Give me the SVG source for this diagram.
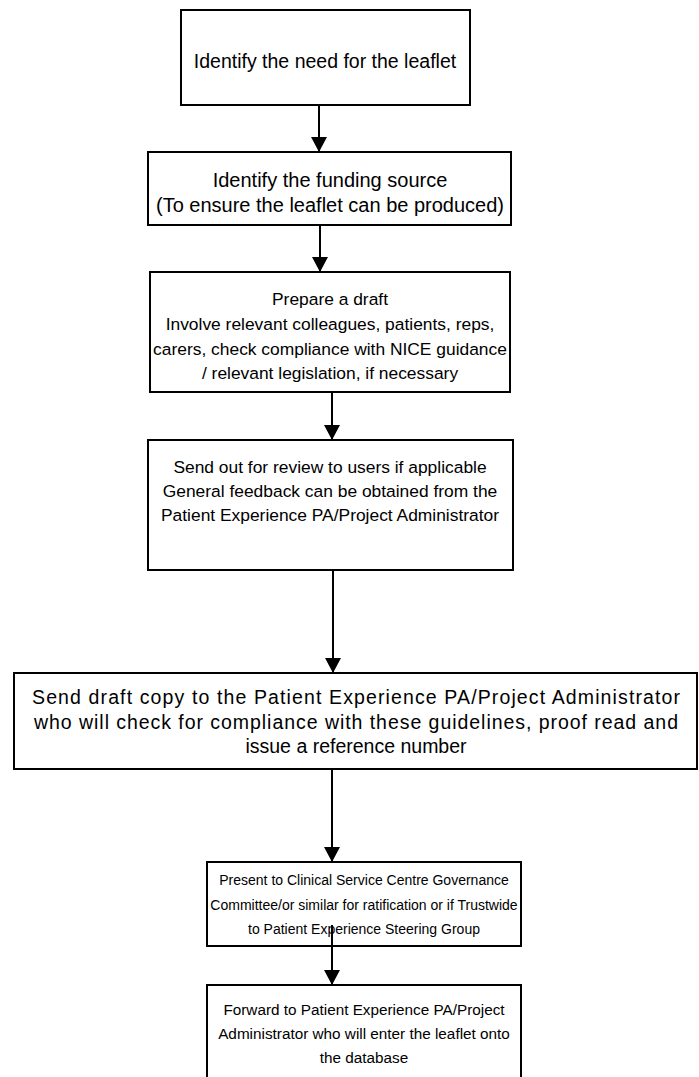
<svg xmlns="http://www.w3.org/2000/svg" width="699" height="1077" viewBox="0 0 699 1077">
<defs>
<style>
.box{fill:#fff;stroke:#000;stroke-width:2}
.t{font-family:"Liberation Sans",Arial,sans-serif;font-size:20px;fill:#000;text-anchor:middle}
.s17{font-size:17.4px}
.s20{font-size:19.5px}
.s14{font-size:14px}
.s15{font-size:15.3px}
.c{stroke:#000;stroke-width:2;fill:none;marker-end:url(#ah)}
</style>
<marker id="ah" markerUnits="userSpaceOnUse" markerWidth="16" markerHeight="16" refX="15" refY="8" orient="auto">
<path d="M0,0 L15,8 L0,16 Z" fill="#000"/>
</marker>
</defs>
<rect width="699" height="1077" fill="#fff"/>
<g id="n1"><rect class="box" x="181" y="10" width="289" height="95"/>
<text class="t" x="325" y="68" style="font-size:19.5px">Identify the need for the leaflet</text></g>
<g id="n2"><rect class="box" x="148" y="152" width="363" height="73"/>
<text class="t" x="330" y="187">Identify the funding source</text>
<text class="t" x="330" y="212">(To ensure the leaflet can be produced)</text></g>
<g id="n3"><rect class="box" x="150" y="272" width="360" height="120"/>
<text class="t s17" x="330" y="305">Prepare a draft</text>
<text class="t s17" x="330" y="330">Involve relevant colleagues, patients, reps,</text>
<text class="t s17" x="330" y="355">carers, check compliance with NICE guidance</text>
<text class="t s17" x="330" y="379">/ relevant legislation, if necessary</text></g>
<g id="n4"><rect class="box" x="148" y="440" width="365" height="130"/>
<text class="t s17" x="330" y="473">Send out for review to users if applicable</text>
<text class="t s17" x="330" y="497">General feedback can be obtained from the</text>
<text class="t s17" x="330" y="521">Patient Experience PA/Project Administrator</text></g>
<g id="n5"><rect class="box" x="14" y="673" width="683" height="96"/>
<text class="t s20" x="356" y="704" textLength="648" lengthAdjust="spacing">Send draft copy to the Patient Experience PA/Project Administrator</text>
<text class="t s20" x="356" y="729" textLength="644" lengthAdjust="spacing">who will check for compliance with these guidelines, proof read and</text>
<text class="t s20" x="356" y="753">issue a reference number</text></g>
<g id="n6"><rect class="box" x="207" y="862" width="314" height="84"/>
<text class="t s14" x="364" y="885">Present to Clinical Service Centre Governance</text>
<text class="t s14" x="364" y="910">Committee/or similar for ratification or if Trustwide</text>
<text class="t s14" x="364" y="934">to Patient Experience Steering Group</text></g>
<g id="n7"><rect class="box" x="207" y="985" width="314" height="100"/>
<text class="t s15" x="364" y="1015">Forward to  Patient Experience PA/Project</text>
<text class="t s15" x="364" y="1039">Administrator who will enter the leaflet onto</text>
<text class="t s15" x="364" y="1063">the database</text></g>
<g id="connectors">
<path class="c" d="M319,105 V152"/>
<path class="c" d="M320,225 V272"/>
<path class="c" d="M332,392 V440"/>
<path class="c" d="M333,570 V673"/>
<path class="c" d="M332,769 V862"/>
<path class="c" d="M332,925 V985"/>
</g>
</svg>
